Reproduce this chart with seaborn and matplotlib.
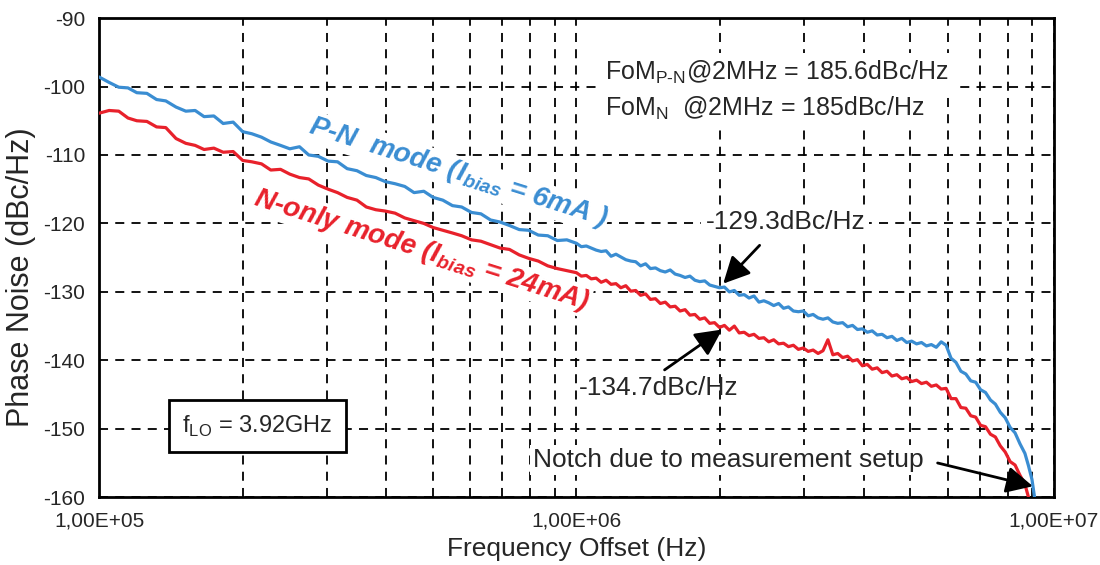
import matplotlib
matplotlib.use("Agg")
import matplotlib.pyplot as plt
from matplotlib.ticker import LogLocator, NullFormatter
import pandas as pd
import seaborn as sns

# frequency offset samples (kHz), shared by both traces
freq_khz = [100, 105, 110, 115, 120, 126, 132, 138, 145, 152, 159, 166, 174, 182, 191,
            200, 209, 219, 229, 240, 251, 263, 275, 288, 302, 316, 331, 347, 363, 380,
            398, 417, 437, 457, 479, 501, 525, 550, 575, 603, 631, 661, 692, 724, 759,
            794, 832, 871, 912, 955,
            1000, 1024, 1049, 1074, 1100, 1127, 1154, 1182, 1210, 1239, 1269, 1300, 1331,
            1363, 1396, 1429, 1464, 1499, 1535, 1572, 1610, 1649, 1689, 1729, 1771, 1813,
            1857, 1902, 1947, 1994, 2042, 2091, 2142, 2193, 2246, 2300, 2355, 2412, 2470,
            2529, 2590, 2652, 2716, 2781, 2848, 2917, 2987, 3059, 3132, 3208, 3285, 3364,
            3445, 3527, 3612, 3699, 3788, 3879, 3972, 4068, 4165, 4266, 4368, 4473, 4581,
            4691, 4804, 4919, 5038, 5159, 5283, 5410, 5540, 5673, 5809, 5949, 6092, 6238,
            6388, 6542, 6699, 6860, 7025, 7194, 7367, 7544, 7725, 7911, 8101, 8296, 8495,
            8700, 8850, 9000, 9100, 9200]

# P-N mode, Ibias = 6mA (dBc/Hz)
pn_mode = [-98.6, -99.4, -100.1, -100.2, -100.9, -101.0, -101.9, -102.1, -103.0, -103.6,
           -103.5, -104.4, -104.3, -105.4, -105.2, -106.6, -106.9, -107.4, -108.1, -108.6,
           -109.1, -108.8, -110.0, -110.2, -110.9, -111.0, -112.0, -112.3, -113.0, -113.3,
           -113.9, -114.2, -114.6, -115.5, -115.3, -116.2, -116.6, -117.4, -117.6, -118.4,
           -118.6, -119.5, -119.8, -120.3, -120.9, -121.0, -121.7, -121.8, -122.5, -122.4,
           -122.9, -123.4, -123.3, -123.6, -123.9, -124.1, -124.0, -124.8, -124.5, -124.9, -125.3, -125.5, -125.6,
           -126.2, -125.9, -126.6, -126.5, -126.9, -127.1, -126.8, -127.4, -127.6, -127.9, -127.7, -128.3, -128.5,
           -128.4, -129.0, -129.2, -129.4, -129.3, -130.0, -129.8, -130.5, -130.4, -130.9, -130.6, -131.5, -131.3,
           -131.6, -132.0, -131.7, -132.4, -132.2, -132.8, -132.9, -132.8, -133.5, -133.3, -133.8, -134.0, -133.8,
           -134.4, -134.6, -134.5, -135.1, -134.9, -135.5, -135.4, -135.9, -135.7, -136.3, -136.2, -136.7, -136.5,
           -137.1, -136.8, -137.4, -137.2, -137.6, -137.4, -137.9, -137.7, -138.1, -137.3, -137.8, -139.7, -140.3,
           -141.6, -142.0, -143.0, -143.2, -144.3, -144.7, -145.8, -146.4, -147.6, -148.4, -149.8, -150.6, -152.2,
           -153.6, -155.4, -157.4, -159.7, -162.5]

# N-only mode, Ibias = 24mA (dBc/Hz)
n_mode = [-103.9, -103.5, -103.6, -104.6, -105.0, -105.1, -105.9, -106.0, -107.6, -108.3,
          -108.6, -109.2, -109.0, -109.6, -109.5, -110.8, -111.0, -111.3, -112.2, -112.1,
          -112.8, -113.3, -113.5, -114.4, -115.0, -115.5, -116.2, -116.6, -117.6, -118.0,
          -118.2, -118.5, -119.2, -119.6, -120.0, -120.6, -121.0, -121.4, -121.8, -122.4,
          -122.6, -123.1, -123.6, -123.8, -124.6, -125.1, -125.5, -126.2, -126.6, -126.9,
          -127.2, -127.7, -127.6, -128.1, -128.0, -128.6, -128.3, -128.9, -128.8, -129.4, -129.1, -129.9, -129.8,
          -130.5, -130.3, -131.1, -131.0, -131.7, -131.5, -132.2, -132.1, -132.8, -132.6, -133.4, -133.3, -134.0,
          -133.8, -134.6, -134.5, -135.2, -134.9, -135.6, -135.0, -136.0, -135.9, -136.4, -136.2, -136.8, -136.7,
          -137.3, -137.0, -137.6, -137.5, -138.0, -137.8, -138.4, -138.2, -138.7, -138.5, -139.0, -138.6, -137.0,
          -139.2, -139.0, -139.6, -139.4, -140.1, -139.9, -140.8, -140.6, -141.3, -141.1, -141.8, -141.6, -142.3,
          -142.1, -142.7, -142.5, -143.1, -142.9, -143.4, -143.2, -143.8, -143.6, -144.2, -144.1, -145.6, -145.6,
          -146.9, -147.0, -148.1, -148.3, -149.5, -149.7, -150.8, -151.2, -152.5, -153.4, -154.8, -155.3, -156.8,
          -158.1, -160.0, -161.0, -162.5, -164.0]

mode_names = ["P-N", "N-only"]
mode_colors = ["#3a8dd2", "#e8212b"]
xtick_vals = [1e5, 1e6, 1e7]
xtick_labels = ["1,00E+05", "1,00E+06", "1,00E+07"]
ytick_vals = [-90, -100, -110, -120, -130, -140, -150, -160]

sns.set_style("white")
plt.rcParams["font.family"] = ["Liberation Sans", "DejaVu Sans"]
plt.rcParams["mathtext.fontset"] = "custom"
plt.rcParams["mathtext.rm"] = "Liberation Sans"
plt.rcParams["axes.unicode_minus"] = False

freq_hz = [f * 1e3 for f in freq_khz]
df = pd.concat([
    pd.DataFrame({"freq": freq_hz, "pn": pn_mode, "mode": mode_names[0]}),
    pd.DataFrame({"freq": freq_hz, "pn": n_mode, "mode": mode_names[1]}),
])

fig = plt.figure(figsize=(11, 5.65), dpi=100)
ax = fig.add_axes([0.09, 0.12, 0.868, 0.848])

sns.lineplot(data=df, x="freq", y="pn", hue="mode", palette=mode_colors,
             hue_order=mode_names, lw=2.3, legend=False, ax=ax, zorder=3)

ax.set_xscale("log")
ax.set_xlim(1e5, 1e7)
ax.set_ylim(-160, -90)
ax.set_xticks(xtick_vals)
ax.set_xticklabels(xtick_labels)
ax.xaxis.set_minor_locator(LogLocator(base=10, subs=[2, 3, 4, 5, 6, 7, 8, 9]))
ax.xaxis.set_minor_formatter(NullFormatter())
ax.set_yticks(ytick_vals)
ax.tick_params(axis="both", which="major", labelsize=15, length=5, width=1.2,
               color="black", direction="out", pad=5)
ax.tick_params(axis="x", which="minor", length=0)

ax.grid(True, which="both", color="black", linestyle=(0, (5, 4)), linewidth=1.3)
for sp in ax.spines.values():
    sp.set_color("black")
    sp.set_linewidth(2)

ax.set_xlabel("Frequency Offset (Hz)", fontsize=19, labelpad=5)
ax.set_ylabel("Phase Noise (dBc/Hz)", fontsize=22)
ax.yaxis.set_label_coords(-0.066, 0.46)

white = dict(facecolor="white", edgecolor="none", pad=1)

ax.text(5.65e5, -112.6, r"P-N  mode (I$_{\mathregular{bias}}$ = 6mA )", color=mode_colors[0],
        fontsize=20, fontweight="bold", fontstyle="italic", rotation=-17.5,
        ha="center", va="center", rotation_mode="anchor", bbox=white, zorder=4)
ax.text(4.74e5, -123.9, r"N-only mode (I$_{\mathregular{bias}}$ = 24mA)", color=mode_colors[1],
        fontsize=20, fontweight="bold", fontstyle="italic", rotation=-17.5,
        ha="center", va="center", rotation_mode="anchor", bbox=white, zorder=4)

ax.text(1.15e6, -97.9, r"FoM$_\text{P-N}$@2MHz = 185.6dBc/Hz", fontsize=18,
        ha="left", va="center", bbox=dict(facecolor="white", edgecolor="none", pad=4), zorder=4)
ax.text(1.15e6, -103.2, r"FoM$_\text{N}$  @2MHz = 185dBc/Hz", fontsize=18,
        ha="left", va="center", bbox=dict(facecolor="white", edgecolor="none", pad=4), zorder=4)

ax.text(2.74e6, -119.8, "-129.3dBc/Hz", fontsize=19, ha="center", va="center",
        bbox=dict(facecolor="white", edgecolor="none", pad=3), zorder=4)
ax.text(1.49e6, -144.1, "-134.7dBc/Hz", fontsize=19, ha="center", va="center", zorder=4)
ax.text(2.08e6, -154.6, "Notch due to measurement setup", fontsize=19, ha="center",
        va="center", bbox=dict(facecolor="white", edgecolor="none", pad=2), zorder=4)

arrow = dict(arrowstyle="-|>,head_length=0.9,head_width=0.45", color="black", lw=2,
             mutation_scale=18, shrinkA=0, shrinkB=0)
ax.annotate("", xy=(2.03e6, -128.8), xytext=(2.42e6, -123.2), arrowprops=arrow, zorder=5)
ax.annotate("", xy=(2.02e6, -135.5), xytext=(1.53e6, -141.4), arrowprops=arrow, zorder=5)
ax.annotate("", xy=(9.04e6, -158.4), xytext=(5.71e6, -155.0), arrowprops=arrow, zorder=5)

ax.text(2.15e5, -149.6, r"f$_{\mathregular{LO}}$ = 3.92GHz", fontsize=17, ha="center",
        va="center", bbox=dict(boxstyle="square,pad=0.55", facecolor="white",
                               edgecolor="black", linewidth=2), zorder=4)

fig.savefig("out.png", dpi=100)
